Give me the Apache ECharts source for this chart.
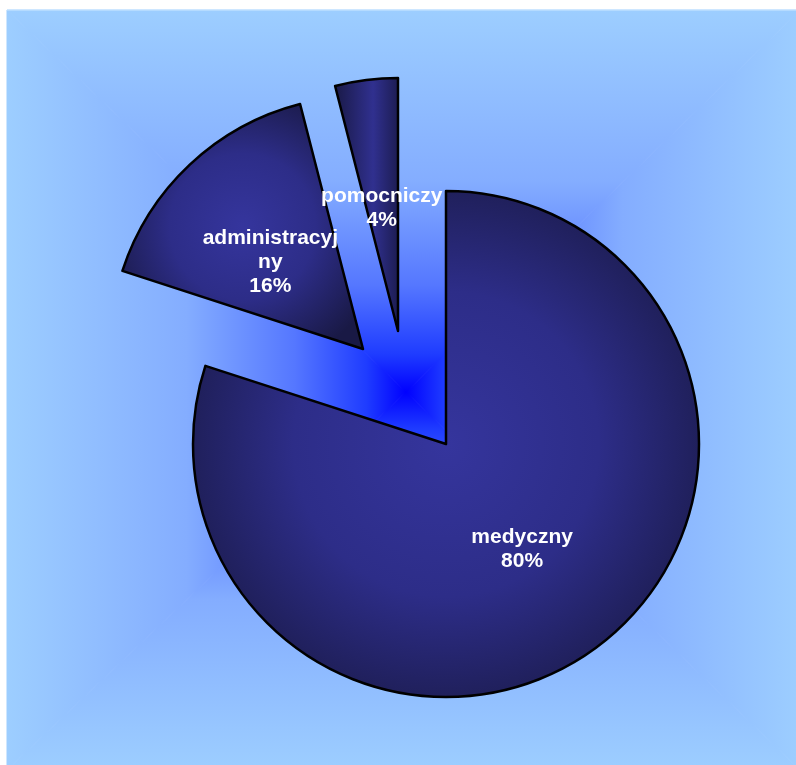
<!DOCTYPE html>
<html>
<head>
<meta charset="utf-8">
<script src="https://cdn.jsdelivr.net/npm/echarts@6/dist/echarts.min.js"></script>
<style>
  html, body { margin: 0; padding: 0; background: #ffffff; }
  #chart { width: 796px; height: 765px; }
</style>
</head>
<body>
<div id="chart"></div>
<script>
// Staff structure by group (percent)
const categories = ['medyczny', 'administracyjny', 'pomocniczy'];
const shares = [80, 16, 4];

// Each exploded slice gets its own pie centre
const sliceCenters = [[446, 444], [363, 349], [398, 331]];
const labelNudges = [[0, 0], [-4, 8], [0, 6]];
const pieRadius = 253;

// Backdrop: rectangular "from centre" gradient built from four triangles
const bgCenter = [406, 392];
const bgBox = { left: 7, top: 10, right: 800, bottom: 770 };
const bgStops = [
  { offset: 0, color: '#0000ff' },
  { offset: 0.1, color: '#1f3cff' },
  { offset: 0.28, color: '#5577ff' },
  { offset: 0.55, color: '#84adff' },
  { offset: 1, color: '#9dceff' }
];

function grad(x, y, x2, y2) {
  return { type: 'linear', x: x, y: y, x2: x2, y2: y2, colorStops: bgStops, global: false };
}

function tri(points, g) {
  return {
    type: 'polygon',
    silent: true,
    z: -10,
    shape: { points: points },
    style: { fill: g, stroke: g, lineWidth: 1 }
  };
}

const c = bgCenter, b = bgBox;
const backdrop = [
  tri([c, [b.left, b.top], [b.right, b.top]], grad(0, 1, 0, 0)),
  tri([c, [b.right, b.bottom], [b.left, b.bottom]], grad(0, 0, 0, 1)),
  tri([c, [b.left, b.top], [b.left, b.bottom]], grad(1, 0, 0, 0)),
  tri([c, [b.right, b.top], [b.right, b.bottom]], grad(0, 0, 1, 0)),
  {
    type: 'line', silent: true, z: -5,
    shape: { x1: b.left, y1: b.top + 0.5, x2: b.right, y2: b.top + 0.5 },
    style: { stroke: '#b5dbff', lineWidth: 1 }
  }
];

// Slice fills: dark navy rims, brighter core
const radialFill = {
  type: 'radial', x: 0.5, y: 0.5, r: 0.6,
  colorStops: [
    { offset: 0, color: '#35359d' },
    { offset: 0.5, color: '#2d2d88' },
    { offset: 1, color: '#191945' }
  ],
  global: false
};
const bandFill = {
  type: 'linear', x: 0, y: 0, x2: 1, y2: 0,
  colorStops: [
    { offset: 0, color: '#191945' },
    { offset: 0.6, color: '#30308f' },
    { offset: 1, color: '#1c1c50' }
  ],
  global: false
};
const sliceFills = [radialFill, radialFill, bandFill];

const hiddenStyle = { color: 'rgba(0,0,0,0)', borderWidth: 0 };

function labelStyle(wrap, nudge) {
  const s = {
    show: true,
    position: 'inside',
    offset: nudge,
    color: '#ffffff',
    fontFamily: 'Arial, "Liberation Sans", sans-serif',
    fontWeight: 'bold',
    fontSize: 21,
    lineHeight: 24,
    align: 'center',
    formatter: function (p) { return p.name + '\n' + Math.round(p.percent) + '%'; }
  };
  if (wrap) {
    s.width = 140;
    s.overflow = 'breakAll';
  }
  return s;
}

const series = categories.map(function (_, i) {
  return {
    type: 'pie',
    center: sliceCenters[i],
    radius: pieRadius,
    startAngle: 90,
    clockwise: true,
    silent: true,
    avoidLabelOverlap: false,
    minShowLabelAngle: 0,
    labelLayout: { hideOverlap: false },
    emphasis: { disabled: true },
    labelLine: { show: false },
    data: categories.map(function (name, j) {
      return {
        name: name,
        value: shares[j],
        itemStyle: j === i
          ? { color: sliceFills[i], borderColor: '#000000', borderWidth: 2.5 }
          : hiddenStyle,
        label: j === i ? labelStyle(name.length > 13, labelNudges[i]) : { show: false }
      };
    })
  };
});

const chart = echarts.init(document.getElementById('chart'), null, { renderer: 'canvas' });
chart.setOption({
  animation: false,
  backgroundColor: '#ffffff',
  graphic: backdrop,
  series: series
});
</script>
</body>
</html>
